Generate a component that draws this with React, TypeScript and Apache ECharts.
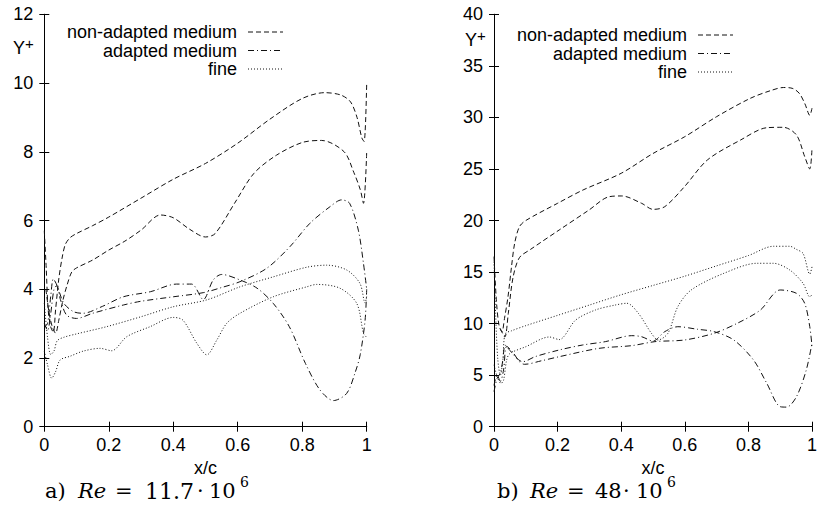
import React, { useEffect, useRef } from "react";
import * as echarts from "echarts";

// Legend names
const seriesNames = ["non-adapted medium", "adapted medium", "fine"];

// Axis settings
const xMin = 0;
const xMax = 1;
const xStep = 0.2;
const aYMax = 12;
const aYStep = 2;
const bYMax = 40;
const bYStep = 5;

// ---------- Panel a) Re = 11.7e6 ----------
const aNonAdaptedUpper: number[][] = [
  [0, 5.7], [0.006, 4.6], [0.012, 3.4], [0.02, 2.9], [0.028, 2.75], [0.035, 3.4], [0.045, 4.3],
  [0.055, 4.9], [0.065, 5.3], [0.08, 5.5], [0.1, 5.62], [0.15, 5.85], [0.2, 6.1], [0.3, 6.65],
  [0.4, 7.2], [0.5, 7.66], [0.6, 8.25], [0.7, 8.95], [0.8, 9.55], [0.87, 9.72], [0.92, 9.65],
  [0.95, 9.45], [0.97, 9.0], [0.985, 8.4], [0.992, 8.3], [1.0, 10.0],
];
const aNonAdaptedLower: number[][] = [
  [0.005, 4.0], [0.015, 3.3], [0.025, 2.9], [0.035, 2.72], [0.045, 3.1], [0.058, 3.69], [0.07, 4.1],
  [0.085, 4.5], [0.1, 4.62], [0.15, 4.85], [0.2, 5.14], [0.25, 5.4], [0.3, 5.72], [0.36, 6.16],
  [0.4, 6.08], [0.45, 5.75], [0.5, 5.52], [0.53, 5.62], [0.59, 6.5], [0.65, 7.37], [0.72, 7.9],
  [0.8, 8.27], [0.86, 8.33], [0.93, 8.0], [0.96, 7.4], [0.98, 6.9], [0.99, 6.5], [1.0, 8.0],
];
const aAdaptedA: number[][] = [
  [0, 2.9], [0.01, 3.0], [0.02, 3.8], [0.028, 4.3], [0.04, 4.1], [0.06, 3.6], [0.09, 3.35],
  [0.12, 3.3], [0.18, 3.5], [0.245, 3.78], [0.33, 3.93], [0.41, 4.15], [0.457, 4.15], [0.493, 3.7],
  [0.524, 4.27], [0.55, 4.43], [0.607, 4.27], [0.66, 4.03], [0.71, 3.59], [0.76, 2.91], [0.81, 1.84],
  [0.855, 1.07], [0.897, 0.76], [0.938, 0.97], [0.965, 1.6], [0.98, 2.1], [0.995, 3.1], [1.0, 4.0],
];
const aAdaptedB: number[][] = [
  [0, 3.0], [0.01, 2.8], [0.02, 3.3], [0.03, 4.0], [0.038, 4.1], [0.05, 3.7], [0.069, 3.25],
  [0.1, 3.15], [0.15, 3.3], [0.245, 3.54], [0.3, 3.65], [0.4, 3.78], [0.493, 3.9], [0.55, 4.05],
  [0.607, 4.22], [0.69, 4.61], [0.762, 5.24], [0.824, 5.92], [0.886, 6.4], [0.922, 6.6], [0.947, 6.5],
  [0.974, 5.72], [0.99, 4.75], [1.0, 4.0],
];
const aFineUpper: number[][] = [
  [0, 3.6], [0.01, 2.6], [0.02, 2.1], [0.03, 2.2], [0.04, 2.5], [0.06, 2.6], [0.1, 2.7],
  [0.193, 2.91], [0.3, 3.2], [0.4, 3.49], [0.504, 3.69], [0.607, 4.07], [0.71, 4.36], [0.814, 4.64],
  [0.876, 4.7], [0.938, 4.56], [0.979, 4.17], [0.995, 3.6], [1.0, 3.8],
];
const aFineLower: number[][] = [
  [0, 2.2], [0.01, 1.8], [0.023, 1.41], [0.035, 1.6], [0.049, 1.94], [0.08, 2.05], [0.121, 2.2],
  [0.173, 2.28], [0.209, 2.21], [0.256, 2.62], [0.328, 2.91], [0.4, 3.18], [0.43, 3.1], [0.473, 2.43],
  [0.504, 2.09], [0.535, 2.52], [0.566, 3.01], [0.607, 3.3], [0.71, 3.78], [0.814, 4.07], [0.845, 4.14],
  [0.917, 4.03], [0.969, 3.59], [0.99, 2.72], [1.0, 2.6],
];

// ---------- Panel b) Re = 48e6 ----------
const bNonAdaptedUpper: number[][] = [
  [0, 16.5], [0.008, 12.0], [0.016, 9.8], [0.025, 9.2], [0.033, 10.5], [0.044, 12.6], [0.055, 15.5],
  [0.065, 17.8], [0.08, 19.4], [0.1, 20.0], [0.2, 21.67], [0.28, 22.96], [0.4, 24.58], [0.5, 26.5],
  [0.6, 28.13], [0.7, 30.07], [0.806, 31.85], [0.87, 32.6], [0.91, 32.9], [0.94, 32.8], [0.961, 32.3],
  [0.978, 31.3], [0.993, 30.2], [1.0, 30.9],
];
const bNonAdaptedLower: number[][] = [
  [0.02, 9.5], [0.034, 8.7], [0.045, 11.0], [0.06, 14.5], [0.08, 16.4], [0.115, 17.2], [0.205, 19.08],
  [0.298, 21.0], [0.361, 22.3], [0.402, 22.38], [0.464, 21.67], [0.5, 21.08], [0.537, 21.34],
  [0.599, 23.28], [0.671, 25.87], [0.775, 27.8], [0.858, 29.0], [0.91, 29.04], [0.951, 28.3],
  [0.977, 26.2], [0.993, 25.0], [1.0, 27.0],
];
const bAdaptedA: number[][] = [
  [0, 3.4], [0.01, 4.7], [0.02, 5.2], [0.028, 6.5], [0.035, 7.9], [0.05, 7.4], [0.07, 6.7],
  [0.09, 6.3], [0.13, 6.8], [0.205, 7.44], [0.278, 7.92], [0.35, 8.25], [0.433, 8.83], [0.464, 8.73],
  [0.5, 8.31], [0.537, 9.22], [0.578, 9.7], [0.64, 9.45], [0.692, 9.22], [0.754, 8.41], [0.816, 6.47],
  [0.858, 4.2], [0.9, 1.94], [0.92, 1.9], [0.951, 2.9], [0.982, 5.5], [1.0, 8.1],
];
const bAdaptedB: number[][] = [
  [0, 4.0], [0.01, 5.0], [0.02, 4.4], [0.03, 5.5], [0.04, 7.8], [0.06, 7.2], [0.08, 6.3],
  [0.096, 6.05], [0.15, 6.4], [0.205, 6.79], [0.33, 7.6], [0.433, 7.86], [0.506, 8.25], [0.599, 8.41],
  [0.692, 9.06], [0.765, 10.03], [0.837, 11.3], [0.9, 13.26], [0.951, 12.94], [0.977, 11.97],
  [0.993, 9.7], [1.0, 7.8],
];
const bFineUpper: number[][] = [
  [0, 16], [0.005, 11], [0.012, 6.5], [0.02, 5.0], [0.028, 6.5], [0.035, 9.0], [0.055, 9.3],
  [0.1, 9.8], [0.2, 10.8], [0.3, 11.8], [0.4, 12.8], [0.5, 13.7], [0.6, 14.6], [0.7, 15.6],
  [0.8, 16.6], [0.879, 17.5], [0.93, 17.5], [0.951, 17.2], [0.972, 16.8], [0.993, 14.8], [1.0, 15.5],
];
const bFineLower: number[][] = [
  [0, 6.0], [0.01, 4.85], [0.022, 4.2], [0.03, 4.5], [0.04, 6.5], [0.05, 7.1], [0.1, 7.76],
  [0.174, 8.7], [0.205, 8.45], [0.257, 10.35], [0.319, 11.32], [0.381, 11.8], [0.418, 11.97],
  [0.454, 11.0], [0.495, 9.06], [0.516, 8.41], [0.547, 9.06], [0.578, 11.64], [0.62, 13.26],
  [0.723, 14.88], [0.827, 15.85], [0.879, 15.85], [0.93, 15.2], [0.972, 13.9], [0.993, 12.6],
  [1.0, 12.8],
];

const DASH = [5, 3];
const DASHDOT = [6, 3, 1, 3];
const DOT = [1, 2];
const SANS = "Liberation Sans, Arial, sans-serif";
const SERIF = "DejaVu Serif, serif";

function makeXAxes(grid: number) {
  const common = {
    gridIndex: grid,
    type: "value" as const,
    min: xMin,
    max: xMax,
    interval: xStep,
    splitLine: { show: false },
    axisLine: { show: true, lineStyle: { color: "#000", width: 1 } },
    axisTick: { show: true, inside: true, length: 5, lineStyle: { color: "#000", width: 1 } },
  };
  return [
    {
      ...common,
      position: "bottom",
      name: "x/c",
      nameLocation: "middle",
      nameGap: 28,
      nameTextStyle: { color: "#000", fontSize: 18, fontFamily: SANS },
      axisLabel: { show: true, color: "#000", fontSize: 18, fontFamily: SANS, margin: 9 },
    },
    { ...common, position: "top", axisLabel: { show: false } },
  ];
}

function makeYAxes(grid: number, yMax: number, yStep: number) {
  const common = {
    gridIndex: grid,
    type: "value" as const,
    min: 0,
    max: yMax,
    interval: yStep,
    splitLine: { show: false },
    axisLine: { show: true, lineStyle: { color: "#000", width: 1 } },
    axisTick: { show: true, inside: true, length: 5, lineStyle: { color: "#000", width: 1 } },
  };
  return [
    {
      ...common,
      position: "left",
      axisLabel: { show: true, color: "#000", fontSize: 18, fontFamily: SANS, margin: 11 },
    },
    { ...common, position: "right", axisLabel: { show: false } },
  ];
}

function line(name: string, data: number[][], idx: number, dash: number[]) {
  return {
    type: "line",
    name,
    data,
    xAxisIndex: idx,
    yAxisIndex: idx,
    showSymbol: false,
    symbol: "none",
    smooth: 0.3,
    silent: true,
    lineStyle: { color: "#111", width: 1, type: dash },
  };
}

function legendGraphics(textRight: number, lineX1: number, lineX2: number, ys: number[]) {
  const dashes = [DASH, DASHDOT, DOT];
  const out: any[] = [];
  seriesNames.forEach((n, i) => {
    out.push({
      type: "text",
      x: textRight,
      y: ys[i],
      style: {
        text: n,
        fontSize: 18,
        fontFamily: SANS,
        fill: "#000",
        textAlign: "right",
        textVerticalAlign: "middle",
      },
    });
    out.push({
      type: "line",
      shape: { x1: lineX1, y1: ys[i], x2: lineX2, y2: ys[i] },
      style: { stroke: "#111", lineWidth: 1, lineDash: dashes[i] },
    });
  });
  return out;
}

function caption(parts: { t: string; x: number; y: number; size: number; italic?: boolean }[]) {
  return parts.map((p) => ({
    type: "text",
    x: p.x,
    y: p.y,
    style: {
      text: p.t,
      fontSize: p.size,
      fontFamily: SERIF,
      fontStyle: p.italic ? "italic" : "normal",
      fill: "#000",
      textAlign: "left",
      textVerticalAlign: "middle",
    },
  }));
}

function yPlus(x: number, y: number) {
  return [
    {
      type: "text",
      x,
      y,
      style: { text: "Y", fontSize: 18, fontFamily: SANS, fill: "#000", textAlign: "left", textVerticalAlign: "middle" },
    },
    {
      type: "text",
      x: x + 12,
      y: y - 5,
      style: { text: "+", fontSize: 15, fontFamily: SANS, fill: "#000", textAlign: "left", textVerticalAlign: "middle" },
    },
  ];
}

export default function App() {
  const ref = useRef<HTMLDivElement>(null);
  useEffect(() => {
    if (!ref.current) return;
    const chart = echarts.init(ref.current, null, { renderer: "svg" });
    const option = {
      animation: false,
      backgroundColor: "#fff",
      textStyle: { fontFamily: SANS },
      grid: [
        { left: 44.3, top: 14.3, width: 322.4, height: 412.4 },
        { left: 494, top: 14.3, width: 321.7, height: 412.4 },
      ],
      xAxis: [...makeXAxes(0), ...makeXAxes(1)],
      yAxis: [...makeYAxes(0, aYMax, aYStep), ...makeYAxes(1, bYMax, bYStep)],
      series: [
        line(seriesNames[0], aNonAdaptedUpper, 0, DASH),
        line(seriesNames[0], aNonAdaptedLower, 0, DASH),
        line(seriesNames[1], aAdaptedA, 0, DASHDOT),
        line(seriesNames[1], aAdaptedB, 0, DASHDOT),
        line(seriesNames[2], aFineUpper, 0, DOT),
        line(seriesNames[2], aFineLower, 0, DOT),
        line(seriesNames[0], bNonAdaptedUpper, 2, DASH),
        line(seriesNames[0], bNonAdaptedLower, 2, DASH),
        line(seriesNames[1], bAdaptedA, 2, DASHDOT),
        line(seriesNames[1], bAdaptedB, 2, DASHDOT),
        line(seriesNames[2], bFineUpper, 2, DOT),
        line(seriesNames[2], bFineLower, 2, DOT),
      ],
      graphic: [
        ...legendGraphics(237, 248, 283, [32, 50.5, 69]),
        ...legendGraphics(687, 698, 733, [35, 53.5, 72]),
        ...yPlus(13, 48),
        ...yPlus(465, 40),
        ...caption([
          { t: "a)", x: 45, y: 491, size: 21 },
          { t: "Re", x: 78, y: 491, size: 21, italic: true },
          { t: "=", x: 115, y: 491, size: 21 },
          { t: "11.7", x: 145, y: 491, size: 22 },
          { t: "·", x: 197, y: 491, size: 21 },
          { t: "10", x: 209, y: 491, size: 21 },
          { t: "6", x: 240, y: 482, size: 14 },
        ]),
        ...caption([
          { t: "b)", x: 497, y: 491, size: 21 },
          { t: "Re", x: 530, y: 491, size: 21, italic: true },
          { t: "=", x: 567, y: 491, size: 21 },
          { t: "48", x: 595, y: 491, size: 21 },
          { t: "·", x: 623, y: 491, size: 21 },
          { t: "10", x: 636, y: 491, size: 21 },
          { t: "6", x: 667, y: 482, size: 14 },
        ]),
      ],
    };
    chart.setOption(option as any);
    return () => chart.dispose();
  }, []);
  return (
    <div
      ref={ref}
      style={{ position: "fixed", left: 0, top: 0, width: 820, height: 513, background: "#fff" }}
    />
  );
}
